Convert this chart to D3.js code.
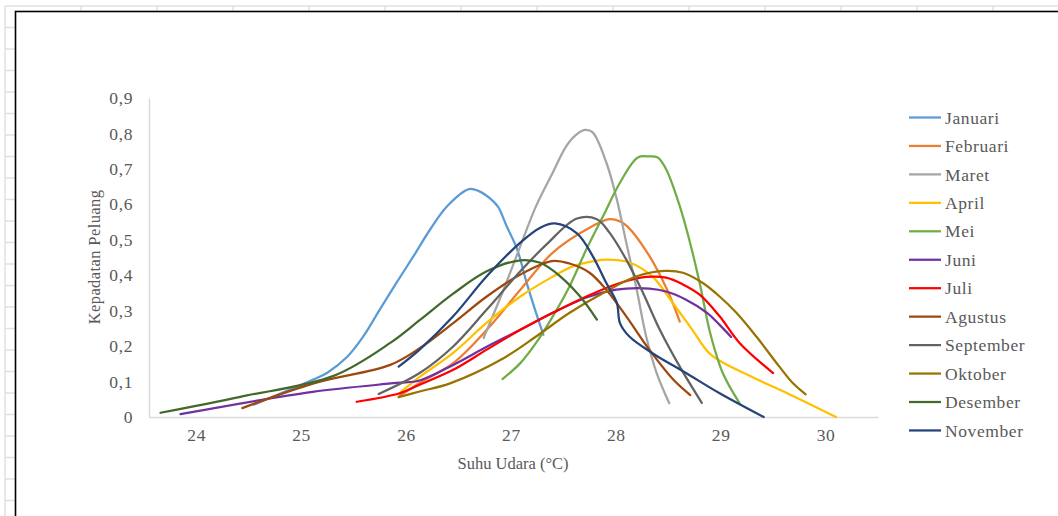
<!DOCTYPE html>
<html>
<head>
<meta charset="utf-8">
<script src="https://cdn.jsdelivr.net/npm/d3@7/dist/d3.min.js"></script>
<style>
  body { margin: 0; background: #fff; }
  text { font-family: "Liberation Serif", "Times New Roman", serif; fill: #595959; }
</style>
</head>
<body>
<svg id="chart" width="1058" height="516"></svg>
<script>
// Data (suhu udara, kepadatan peluang) per bulan
const januari = [[24.55,0.035],[25.11,0.105],[25.25,0.125],[25.44,0.170],[25.59,0.226],[25.75,0.303],[25.91,0.379],[26.07,0.453],[26.23,0.529],[26.39,0.594],[26.60,0.643],[26.69,0.638],[26.82,0.612],[26.88,0.592],[26.96,0.538],[27.06,0.473],[27.15,0.379],[27.23,0.303],[27.31,0.232]];
const februari = [[25.94,0.060],[26.13,0.096],[26.45,0.152],[26.77,0.246],[27.09,0.359],[27.40,0.464],[27.72,0.529],[27.94,0.558],[28.04,0.552],[28.11,0.538],[28.30,0.464],[28.49,0.359],[28.61,0.269]];
const maret = [[26.74,0.223],[26.93,0.359],[27.09,0.482],[27.24,0.595],[27.40,0.690],[27.53,0.765],[27.63,0.798],[27.71,0.810],[27.78,0.803],[27.91,0.718],[28.01,0.614],[28.10,0.492],[28.20,0.359],[28.29,0.227],[28.39,0.124],[28.51,0.039]];
const april = [[25.95,0.070],[26.13,0.113],[26.45,0.181],[26.77,0.266],[27.09,0.340],[27.40,0.396],[27.59,0.425],[27.78,0.439],[27.91,0.444],[28.13,0.436],[28.35,0.396],[28.54,0.323],[28.73,0.246],[28.91,0.175],[29.30,0.113],[29.63,0.068],[30.10,0.0]];
const mei = [[26.92,0.107],[27.09,0.152],[27.24,0.209],[27.40,0.284],[27.56,0.369],[27.72,0.473],[27.88,0.567],[28.04,0.661],[28.21,0.732],[28.32,0.735],[28.40,0.732],[28.48,0.699],[28.61,0.595],[28.70,0.501],[28.80,0.378],[28.90,0.237],[29.02,0.124],[29.18,0.039]];
const juni = [[23.85,0.008],[25.11,0.071],[25.91,0.096],[26.13,0.103],[26.45,0.147],[26.77,0.198],[27.09,0.246],[27.40,0.294],[27.72,0.337],[27.91,0.354],[28.10,0.362],[28.32,0.362],[28.48,0.354],[28.67,0.331],[28.87,0.294],[28.99,0.260],[29.10,0.226]];
const juli = [[25.53,0.043],[25.94,0.067],[26.13,0.091],[26.45,0.133],[26.77,0.190],[27.09,0.246],[27.40,0.294],[27.72,0.340],[28.04,0.378],[28.29,0.395],[28.48,0.393],[28.64,0.374],[28.80,0.345],[28.99,0.284],[29.18,0.209],[29.50,0.124]];
const agustus = [[24.44,0.025],[25.12,0.095],[25.85,0.147],[26.13,0.194],[26.45,0.265],[26.77,0.340],[27.09,0.402],[27.39,0.440],[27.56,0.433],[27.75,0.407],[27.91,0.359],[28.10,0.284],[28.32,0.190],[28.55,0.105],[28.71,0.062]];
const september = [[25.74,0.065],[26.13,0.124],[26.45,0.199],[26.77,0.303],[27.09,0.411],[27.34,0.487],[27.63,0.560],[27.82,0.558],[27.94,0.520],[28.10,0.444],[28.26,0.350],[28.42,0.246],[28.61,0.142],[28.82,0.040]];
const oktober = [[25.93,0.056],[26.13,0.072],[26.42,0.095],[26.93,0.166],[27.24,0.227],[27.56,0.294],[27.88,0.350],[28.20,0.397],[28.47,0.412],[28.64,0.407],[28.83,0.378],[28.99,0.340],[29.15,0.294],[29.34,0.227],[29.56,0.142],[29.69,0.095],[29.81,0.064]];
const desember = [[23.66,0.012],[24.42,0.057],[25.31,0.116],[25.85,0.209],[26.13,0.273],[26.45,0.348],[26.77,0.411],[27.09,0.442],[27.28,0.435],[27.47,0.397],[27.66,0.340],[27.82,0.275]];
const november = [[25.93,0.142],[26.13,0.190],[26.45,0.284],[26.77,0.397],[27.09,0.492],[27.28,0.534],[27.42,0.546],[27.63,0.518],[27.78,0.454],[27.91,0.378],[28.01,0.322],[28.04,0.265],[28.13,0.227],[28.35,0.180],[28.67,0.124],[28.99,0.067],[29.41,0.0]];

const bulan = ["Januari","Februari","Maret","April","Mei","Juni","Juli","Agustus","September","Oktober","Desember","November"];
const nilai = [januari,februari,maret,april,mei,juni,juli,agustus,september,oktober,desember,november];
const warna = ["#5B9BD5","#ED7D31","#A5A5A5","#FFC000","#70AD47","#7030A0","#FF0000","#9E480E","#636363","#997300","#43682B","#264478"];
const xTicks = [24,25,26,27,28,29,30];
const yTicks = [0,0.1,0.2,0.3,0.4,0.5,0.6,0.7,0.8,0.9];

const svg = d3.select("#chart");

// latar lembar kerja (garis sel)
const bg = svg.append("g").attr("stroke", "#e1e1e1").attr("stroke-width", 1.5);
d3.range(5, 1058, 76).forEach(v => bg.append("line").attr("x1", v).attr("x2", v).attr("y1", 6).attr("y2", 516));
d3.range(6, 516, 21.5).forEach(v => bg.append("line").attr("x1", 5).attr("x2", 1058).attr("y1", v).attr("y2", v));

// area grafik
svg.append("rect").attr("x", 15.5).attr("y", 11.5).attr("width", 1100).attr("height", 600)
  .attr("fill", "#fff").attr("stroke", "#000").attr("stroke-width", 1.6);

const x = d3.scaleLinear().domain([23.55, 30.5]).range([149, 878]);
const y = d3.scaleLinear().domain([0, 0.9]).range([417, 98]);

// sumbu Y
const gy = svg.append("g").attr("transform", "translate(149,0)")
  .call(d3.axisLeft(y).tickValues(yTicks).tickSize(0).tickPadding(16)
    .tickFormat(d => d3.format(".1~f")(d).replace(".", ",")));
gy.select(".domain").attr("stroke", "#d9d9d9").attr("stroke-width", 1.5);
gy.selectAll("text").attr("font-size", 17.5).attr("font-family", null).attr("letter-spacing", 0.6);

// sumbu X
const gx = svg.append("g").attr("transform", "translate(0,417)")
  .call(d3.axisBottom(x).tickValues(xTicks).tickSize(0).tickPadding(12).tickFormat(d3.format("d")));
gx.select(".domain").attr("stroke", "#d9d9d9").attr("stroke-width", 1.5);
gx.selectAll("text").attr("font-size", 17.5).attr("font-family", null).attr("letter-spacing", 0.6);

// judul sumbu
svg.append("text").attr("x", 513).attr("y", 469).attr("text-anchor", "middle")
  .attr("font-size", 16.5).text("Suhu Udara (°C)");
svg.append("text").attr("transform", "translate(100,257) rotate(-90)").attr("text-anchor", "middle")
  .attr("font-size", 16.5).attr("letter-spacing", 0.4).text("Kepadatan Peluang");

// garis
const line = d3.line().x(d => x(d[0])).y(d => y(d[1])).curve(d3.curveCatmullRom.alpha(0.5));
svg.append("g").selectAll("path").data(nilai).join("path")
  .attr("fill", "none")
  .attr("stroke", (d, i) => warna[i])
  .attr("stroke-width", 2.25)
  .attr("stroke-linecap", "round")
  .attr("d", line);

// legenda
const lg = svg.append("g").selectAll("g").data(bulan).join("g")
  .attr("transform", (d, i) => "translate(909," + (117.5 + i * 28.45) + ")");
lg.append("line").attr("x1", 0).attr("x2", 32).attr("stroke", (d, i) => warna[i]).attr("stroke-width", 2.25);
lg.append("text").attr("x", 36).attr("dy", "0.35em").attr("font-size", 17.5).attr("letter-spacing", 0.6).text(d => d);
</script>
</body>
</html>
